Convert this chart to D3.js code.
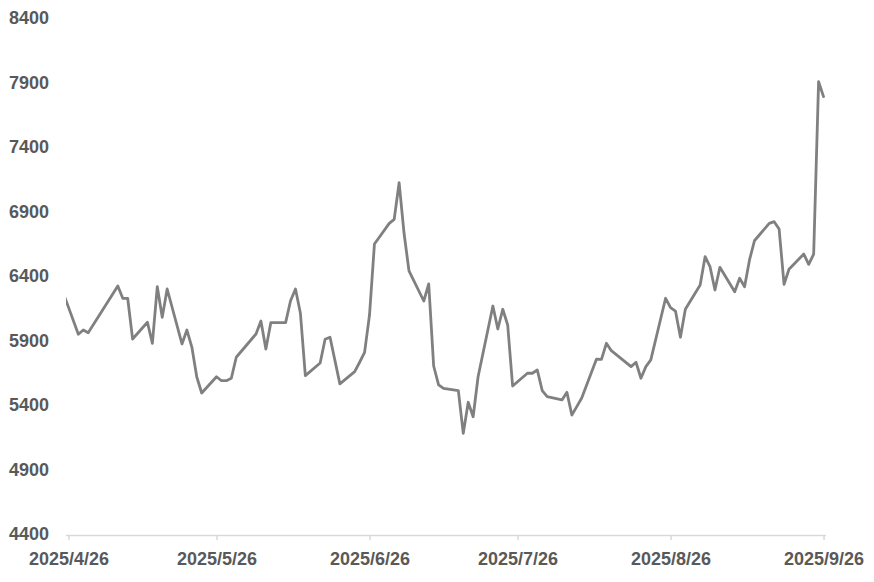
<!DOCTYPE html>
<html>
<head>
<meta charset="utf-8">
<script src="https://cdn.jsdelivr.net/npm/d3@7"></script>
<style>
  html, body { margin: 0; padding: 0; background: #ffffff; }
  svg { display: block; }
  text { font-family: "Liberation Sans", Arial, sans-serif; font-weight: bold; fill: #595959; }
</style>
</head>
<body>
<svg id="chart" width="874" height="582"></svg>
<script>
// ---- data ----
const dates = [
  "2025-04-25","2025-04-28","2025-04-29","2025-04-30",
  "2025-05-06","2025-05-07","2025-05-08","2025-05-09",
  "2025-05-12","2025-05-13","2025-05-14","2025-05-15","2025-05-16",
  "2025-05-19","2025-05-20","2025-05-21","2025-05-22","2025-05-23",
  "2025-05-26","2025-05-27","2025-05-28","2025-05-29","2025-05-30",
  "2025-06-03","2025-06-04","2025-06-05","2025-06-06",
  "2025-06-09","2025-06-10","2025-06-11","2025-06-12","2025-06-13",
  "2025-06-16","2025-06-17","2025-06-18","2025-06-19","2025-06-20",
  "2025-06-23","2025-06-24","2025-06-25","2025-06-26","2025-06-27",
  "2025-06-30","2025-07-01","2025-07-02","2025-07-03","2025-07-04",
  "2025-07-07","2025-07-08","2025-07-09","2025-07-10","2025-07-11",
  "2025-07-14","2025-07-15","2025-07-16","2025-07-17","2025-07-18",
  "2025-07-21","2025-07-22","2025-07-23","2025-07-24","2025-07-25",
  "2025-07-28","2025-07-29","2025-07-30","2025-07-31","2025-08-01",
  "2025-08-04","2025-08-05","2025-08-06","2025-08-07","2025-08-08",
  "2025-08-11","2025-08-12","2025-08-13","2025-08-14","2025-08-15",
  "2025-08-18","2025-08-19","2025-08-20","2025-08-21","2025-08-22",
  "2025-08-25","2025-08-26","2025-08-27","2025-08-28","2025-08-29",
  "2025-09-01","2025-09-02","2025-09-03","2025-09-04","2025-09-05",
  "2025-09-08","2025-09-09","2025-09-10","2025-09-11","2025-09-12",
  "2025-09-15","2025-09-16","2025-09-17","2025-09-18","2025-09-19",
  "2025-09-22","2025-09-23","2025-09-24","2025-09-25","2025-09-26"
];
const prices = [
  6270, 5956, 5989, 5968,
  6330, 6235, 6235, 5919,
  6049, 5886, 6325, 6088, 6307,
  5881, 5989, 5857, 5625, 5501,
  5627, 5596, 5596, 5615, 5778,
  5958, 6059, 5842, 6046,
  6046, 6216, 6307, 6119, 5635,
  5733, 5917, 5933, 5752, 5571,
  5666, 5739, 5816, 6105, 6656,
  6816, 6847, 7131, 6739, 6447,
  6214, 6346, 5710, 5563, 5536,
  5519, 5188, 5429, 5317, 5627,
  6175, 5997, 6150, 6028, 5555,
  5654, 5654, 5679, 5519, 5472,
  5447, 5506, 5330, 5395, 5462,
  5764, 5762, 5886, 5829, 5798,
  5705, 5739, 5615, 5705, 5757,
  6235, 6162, 6136, 5933, 6150,
  6338, 6557, 6480, 6299, 6475,
  6286, 6390, 6325, 6532, 6681,
  6816, 6829, 6772, 6343, 6460,
  6578, 6498, 6578, 7914, 7798
];
const yTicks = [4400, 4900, 5400, 5900, 6400, 6900, 7400, 7900, 8400];
const xTickLabels = ["2025/4/26", "2025/5/26", "2025/6/26", "2025/7/26", "2025/8/26", "2025/9/26"];
const axisStart = "2025-04-26";
const axisEnd = "2025-09-27";

// ---- layout ----
const svg = d3.select("#chart");
const mLeft = 66, mRight = 826, mTop = 19, mBottom = 535;
const parse = d3.timeParse("%Y-%m-%d");
const parseLabel = d3.timeParse("%Y/%m/%d");
const mid = d => d3.timeHour.offset(d, 12);

const x = d3.scaleTime().domain([parse(axisStart), parse(axisEnd)]).range([mLeft, mRight]);
const y = d3.scaleLinear().domain([4400, 8400]).range([mBottom, mTop]);

const data = dates.map((d, i) => ({ date: mid(parse(d)), value: prices[i] }));

// clip
svg.append("defs").append("clipPath").attr("id", "plotClip")
  .append("rect").attr("x", mLeft).attr("y", 0).attr("width", mRight - mLeft).attr("height", 582);

// y labels (no axis line)
const yAxis = d3.axisLeft(y).tickValues(yTicks).tickSize(0).tickPadding(0).tickFormat(d3.format("d"));
const gy = svg.append("g").attr("transform", `translate(49,-1)`).call(yAxis);
gy.select(".domain").remove();
gy.selectAll("text").attr("font-size", 18).attr("font-family", "Liberation Sans, Arial, sans-serif")
  .attr("font-weight", "bold").attr("fill", "#595959").attr("dy", "0.33em");

// x axis
const xTickDates = xTickLabels.map(s => mid(parseLabel(s)));
const xAxis = d3.axisBottom(x).tickValues(xTickDates).tickSize(5).tickPadding(12)
  .tickFormat((d, i) => xTickLabels[i]);
const gx = svg.append("g").attr("transform", `translate(0,${mBottom})`).call(xAxis);
gx.select(".domain").attr("stroke", "#d9d9d9").attr("stroke-width", 1.5)
  .attr("d", `M${mLeft},0.5H${mRight}`);
gx.selectAll(".tick line").attr("stroke", "#d9d9d9").attr("stroke-width", 1.5);
gx.selectAll("text").attr("font-size", 18).attr("font-family", "Liberation Sans, Arial, sans-serif")
  .attr("font-weight", "bold").attr("fill", "#595959");

// line
const line = d3.line().x(d => x(d.date)).y(d => y(d.value));
svg.append("path")
  .datum(data)
  .attr("clip-path", "url(#plotClip)")
  .attr("fill", "none")
  .attr("stroke", "#808080")
  .attr("stroke-width", 2.8)
  .attr("stroke-linejoin", "round")
  .attr("stroke-linecap", "round")
  .attr("d", line);
</script>
</body>
</html>
